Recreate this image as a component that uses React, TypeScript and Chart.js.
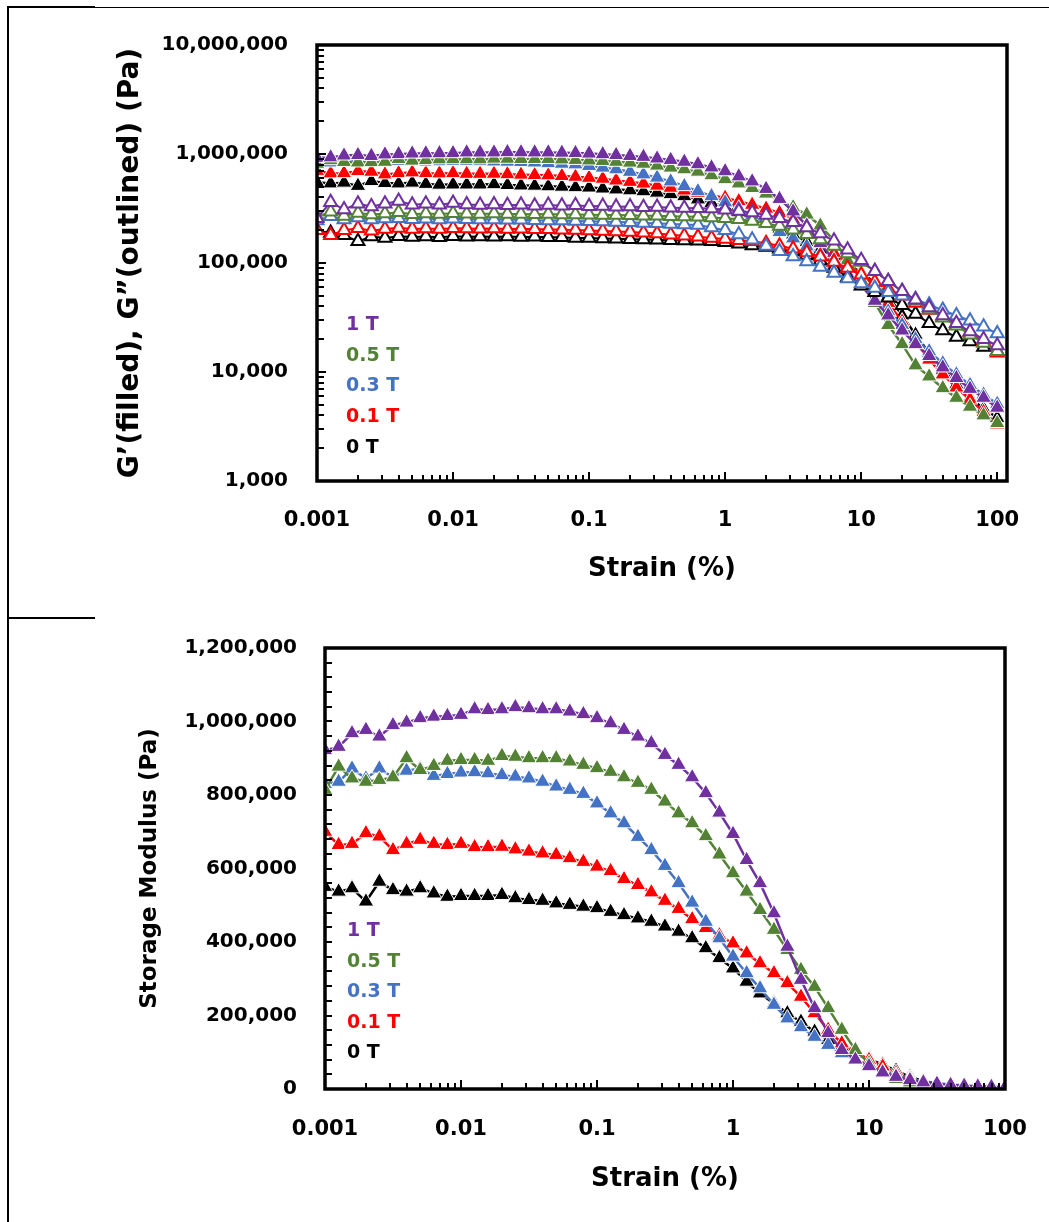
import React, { useEffect, useRef } from 'react';
import { Chart, registerables } from 'chart.js';

Chart.register(...registerables);

// ---------- data ----------
const strain = [
  0.001, 0.00126, 0.00158, 0.002, 0.00251, 0.00316, 0.00398, 0.00501, 0.00631, 0.00794,
  0.01, 0.0126, 0.0158, 0.02, 0.0251, 0.0316, 0.0398, 0.0501, 0.0631, 0.0794,
  0.1, 0.126, 0.158, 0.2, 0.251, 0.316, 0.398, 0.501, 0.631, 0.794,
  1, 1.26, 1.58, 2, 2.51, 3.16, 3.98, 5.01, 6.31, 7.94,
  10, 12.6, 15.8, 20, 25.1, 31.6, 39.8, 50.1, 63.1, 79.4,
  100,
];

// Storage modulus G' (filled markers) in Pa
const gPrime1T = [
  922000, 931000, 968000, 977000, 959000, 990000, 997000, 1009000, 1013000, 1015000,
  1018000, 1033000, 1031000, 1033000, 1039000, 1036000, 1033000, 1033000, 1027000, 1020000,
  1009000, 995000, 977000, 959000, 941000, 909000, 882000, 848000, 805000, 752000,
  694000, 623000, 560000, 478000, 387000, 297000, 220000, 152000, 106000, 80000,
  62000, 45000, 33000, 24000, 18000, 14000, 11000, 8800, 7000, 5800,
  4700,
];
const gPrime05T = [
  814000, 877000, 845000, 836000, 841000, 848000, 900000, 868000, 879000, 893000,
  895000, 895000, 893000, 906000, 904000, 900000, 900000, 900000, 891000, 882000,
  873000, 863000, 848000, 833000, 814000, 782000, 750000, 723000, 688000, 638000,
  587000, 537000, 487000, 433000, 378000, 324000, 278000, 220000, 161000, 106000,
  70000, 43000, 27000, 18000, 11500, 9100, 7100, 5800, 4800, 4000,
  3400,
];
const gPrime03T = [
  830000, 836000, 872000, 845000, 872000, 848000, 866000, 872000, 852000, 857000,
  861000, 862000, 859000, 854000, 850000, 845000, 836000, 823000, 814000, 803000,
  777000, 750000, 723000, 686000, 650000, 607000, 560000, 507000, 455000, 410000,
  360000, 315000, 274000, 229000, 192000, 168000, 142000, 120000, 97000, 79000,
  61000, 47000, 36000, 27000, 20000, 15500, 12000, 9500, 7600, 6200,
  5100,
];
const gPrime01T = [
  700000, 664000, 667000, 696000, 687000, 650000, 667000, 678000, 667000, 664000,
  667000, 658000, 658000, 659000, 652000, 646000, 641000, 637000, 628000, 618000,
  605000, 593000, 571000, 555000, 535000, 512000, 490000, 462000, 438000, 418000,
  396000, 369000, 342000, 315000, 288000, 251000, 206000, 161000, 124000, 101000,
  79000, 61000, 43000, 29000, 19000, 13000, 9500, 7200, 5600, 4300,
  3300,
];
const gPrime0T = [
  550000, 537000, 546000, 510000, 564000, 541000, 537000, 546000, 532000, 523000,
  525000, 525000, 525000, 528000, 519000, 514000, 512000, 505000, 501000, 496000,
  492000, 482000, 473000, 464000, 455000, 442000, 428000, 410000, 383000, 356000,
  328000, 292000, 260000, 233000, 206000, 183000, 156000, 133000, 115000, 97000,
  82000, 66000, 50000, 33000, 22000, 15000, 10500, 7700, 5800, 4600,
  3800,
];

// Loss modulus G'' (outlined markers) in Pa
const gDouble1T = [
  258000, 360000, 310000, 350000, 330000, 350000, 370000, 342000, 350000, 342000,
  355000, 345000, 340000, 345000, 338000, 342000, 336000, 340000, 335000, 338000,
  332000, 333000, 328000, 330000, 325000, 326000, 322000, 320000, 318000, 316000,
  308000, 300000, 290000, 276000, 258000, 236000, 212000, 186000, 160000, 132000,
  106000, 84000, 68000, 55000, 46000, 39000, 33000, 28000, 23500, 20000,
  17500,
];
const gDouble05T = [
  265000, 295000, 270000, 288000, 278000, 284000, 292000, 280000, 285000, 282000,
  286000, 283000, 282000, 284000, 281000, 282000, 280000, 281000, 279000, 279000,
  277000, 276000, 275000, 274000, 272000, 271000, 269000, 267000, 265000, 262000,
  258000, 252000, 243000, 232000, 218000, 202000, 184000, 164000, 143000, 122000,
  102000, 84000, 68000, 55000, 45000, 37500, 31500, 26500, 22000, 18500,
  15500,
];
const gDouble03T = [
  245000, 268000, 250000, 262000, 250000, 256000, 258000, 252000, 255000, 251000,
  254000, 252000, 250000, 251000, 249000, 249000, 247000, 246000, 245000, 243000,
  242000, 240000, 238000, 236000, 233000, 231000, 228000, 226000, 223000, 212000,
  200000, 183000, 163000, 143000, 128000, 115000, 103000, 92000, 81000, 72000,
  65000, 59000, 54000, 50000, 46500, 41500, 37000, 33000, 29500, 26000,
  22500,
];
const gDouble01T = [
  200000, 180000, 200000, 208000, 198000, 205000, 210000, 205000, 207000, 205000,
  208000, 207000, 206000, 207000, 205000, 206000, 204000, 204000, 202000, 201000,
  199000, 197000, 195000, 192000, 189000, 186000, 182000, 178000, 174000, 170000,
  166000, 162000, 158000, 152000, 144000, 135000, 125000, 114000, 102000, 90000,
  78000, 67000, 58000, 50000, 43000, 37000, 32000, 27000, 23000, 19000,
  15000,
];
const gDouble0T = [
  200000, 188000, 180000, 158000, 175000, 170000, 176000, 173000, 175000, 172000,
  176000, 174000, 175000, 174000, 175000, 173000, 174000, 172000, 172000, 170000,
  170000, 168000, 167000, 165000, 164000, 163000, 162000, 161000, 160000, 158000,
  155000, 150000, 145000, 140000, 135000, 128000, 118000, 105000, 90000, 74000,
  62000, 54000, 48000, 41000, 34000, 28000, 24000, 21000, 19000, 17000,
  15500,
];

const seriesLabels = ['1 T', '0.5 T', '0.3 T', '0.1 T', '0 T'];
const seriesColors = ['#7030A0', '#548235', '#4472C4', '#FF0000', '#000000'];
const storageSeries = [gPrime1T, gPrime05T, gPrime03T, gPrime01T, gPrime0T];
const lossSeries = [gDouble1T, gDouble05T, gDouble03T, gDouble01T, gDouble0T];

const topYTitle = 'G\u2019(filled), G\u201D(outlined) (Pa)';
const bottomYTitle = 'Storage Modulus (Pa)';
const xTitle = 'Strain (%)';

// ---------- helpers ----------
const FONT = "'DejaVu Sans', 'Open Sans', sans-serif";

function isPow10(v: number) {
  const l = Math.log10(v);
  return Math.abs(l - Math.round(l)) < 1e-6;
}
function fmtLogStrain(v: number) {
  if (!isPow10(v)) return '';
  const e = Math.round(Math.log10(v));
  return e < 0 ? v.toFixed(-e) : String(Math.round(v));
}
function fmtThousands(v: number) {
  return Math.round(v).toLocaleString('en-US');
}
function logDecorations(min: number, max: number) {
  const major: number[] = [];
  const minor: number[] = [];
  const e0 = Math.floor(Math.log10(min));
  const e1 = Math.ceil(Math.log10(max));
  for (let e = e0; e <= e1; e++) {
    for (let m = 1; m <= 9; m++) {
      const v = m * Math.pow(10, e);
      if (v < min * 0.9999 || v > max * 1.0001) continue;
      if (m === 1) major.push(v);
      else minor.push(v);
    }
  }
  return { major, minor };
}

const framePlugin = {
  id: 'frame',
  afterDraw(chart: any, _args: any, opts: any) {
    const { ctx, chartArea: a, scales } = chart;
    ctx.save();
    ctx.strokeStyle = '#000';
    ctx.lineWidth = 2;
    ctx.beginPath();
    const xs = scales.x;
    const ys = scales.y;
    const drawX = (vals: number[], len: number) => {
      vals.forEach((v) => {
        const px = Math.round(xs.getPixelForValue(v));
        if (px <= a.left + 2 || px >= a.right - 2) return;
        ctx.moveTo(px, a.bottom);
        ctx.lineTo(px, a.bottom - len);
      });
    };
    const drawY = (vals: number[], len: number) => {
      vals.forEach((v) => {
        const py = Math.round(ys.getPixelForValue(v));
        if (py <= a.top + 2 || py >= a.bottom - 2) return;
        ctx.moveTo(a.left, py);
        ctx.lineTo(a.left + len, py);
      });
    };
    drawX(opts.xMajor || [], 9);
    drawX(opts.xMinor || [], 6);
    drawY(opts.yMajor || [], 9);
    drawY(opts.yMinor || [], 7);
    ctx.stroke();
    ctx.lineWidth = 3.5;
    ctx.strokeRect(a.left, a.top, a.right - a.left, a.bottom - a.top);
    ctx.restore();
  },
};

function makeDataset(values: number[], color: string, filled: boolean, label: string) {
  return {
    label,
    data: strain.map((s, i) => ({ x: s, y: values[i] })),
    borderColor: color,
    borderWidth: filled ? 2.5 : 2,
    pointStyle: 'triangle',
    pointRadius: filled ? 9 : 7.5,
    pointBackgroundColor: filled ? color : '#ffffff',
    pointBorderColor: filled ? '#ffffff' : color,
    pointBorderWidth: filled ? 1 : 2,
    tension: 0,
    fill: false,
  };
}

const tickFont = { family: FONT, size: 20, weight: 'bold' as const };
const xTickFont = { family: FONT, size: 21, weight: 'bold' as const };

const fixXPadding = (s: any, h: number) => {
  s.height = h;
  s.paddingLeft = 0;
  s.paddingRight = 0;
};
const fixYPadding = (s: any, w: number) => {
  s.width = w;
  s.paddingTop = 0;
  s.paddingBottom = 0;
};

function TopChart() {
  const ref = useRef<HTMLCanvasElement | null>(null);
  useEffect(() => {
    if (!ref.current) return;
    const xMin = 0.001;
    const xMax = 118;
    const xDec = logDecorations(xMin, xMax);
    const yDec = logDecorations(1000, 10000000);
    const datasets: any[] = [];
    lossSeries.forEach((s, i) => datasets.push(makeDataset(s, seriesColors[i], false, seriesLabels[i] + ' G\u201D')));
    storageSeries.forEach((s, i) => datasets.push(makeDataset(s, seriesColors[i], true, seriesLabels[i] + ' G\u2019')));
    const chart = new Chart(ref.current, {
      type: 'line',
      data: { datasets },
      plugins: [framePlugin],
      options: {
        animation: false,
        responsive: false,
        events: [],
        layout: { padding: { left: 0, top: 45, right: 42, bottom: 0 } },
        plugins: {
          legend: { display: false },
          tooltip: { enabled: false },
          frame: { xMajor: xDec.major, xMinor: xDec.minor, yMajor: yDec.major, yMinor: yDec.minor },
        } as any,
        scales: {
          x: {
            type: 'logarithmic',
            min: xMin,
            max: xMax,
            grid: { display: false, drawTicks: false },
            border: { display: false },
            ticks: {
              autoSkip: false,
              maxRotation: 0,
              padding: 27,
              font: xTickFont,
              color: '#000',
              callback: (v: any) => fmtLogStrain(Number(v)),
            },
            title: {
              display: true,
              text: xTitle,
              color: '#000',
              font: { family: FONT, size: 26, weight: 'bold' },
              padding: { top: 0, bottom: 25 },
            },
            afterFit: (s: any) => fixXPadding(s, 129),
          },
          y: {
            type: 'logarithmic',
            min: 1000,
            max: 10000000,
            grid: { display: false, drawTicks: false },
            border: { display: false },
            ticks: {
              autoSkip: false,
              padding: 29,
              font: tickFont,
              color: '#000',
              callback: (v: any) => (isPow10(Number(v)) ? fmtThousands(Number(v)) : ''),
            },
            title: {
              display: true,
              text: topYTitle,
              color: '#000',
              font: { family: FONT, size: 28, weight: 'bold' },
              padding: { top: 114, bottom: 0 },
            },
            afterFit: (s: any) => fixYPadding(s, 317),
          },
        } as any,
      },
    } as any);
    return () => chart.destroy();
  }, []);
  return <canvas ref={ref} width={1049} height={610} style={{ display: 'block', width: 1049, height: 610 }} />;
}

function BottomChart() {
  const ref = useRef<HTMLCanvasElement | null>(null);
  useEffect(() => {
    if (!ref.current) return;
    const xMin = 0.001;
    const xMax = 100;
    const xDec = logDecorations(xMin, xMax);
    const yMinor: number[] = [];
    for (let v = 40000; v < 1200000; v += 40000) yMinor.push(v);
    const datasets = storageSeries.map((s, i) => makeDataset(s, seriesColors[i], true, seriesLabels[i]));
    const chart = new Chart(ref.current, {
      type: 'line',
      data: { datasets },
      plugins: [framePlugin],
      options: {
        animation: false,
        responsive: false,
        events: [],
        layout: { padding: { left: 0, top: 38, right: 44, bottom: 0 } },
        plugins: {
          legend: { display: false },
          tooltip: { enabled: false },
          frame: { xMajor: xDec.major, xMinor: xDec.minor, yMajor: [], yMinor },
        } as any,
        scales: {
          x: {
            type: 'logarithmic',
            min: xMin,
            max: xMax,
            grid: { display: false, drawTicks: false },
            border: { display: false },
            ticks: {
              autoSkip: false,
              maxRotation: 0,
              padding: 28,
              font: xTickFont,
              color: '#000',
              callback: (v: any) => fmtLogStrain(Number(v)),
            },
            title: {
              display: true,
              text: xTitle,
              color: '#000',
              font: { family: FONT, size: 26, weight: 'bold' },
              padding: { top: 0, bottom: 27 },
            },
            afterFit: (s: any) => fixXPadding(s, 133),
          },
          y: {
            type: 'linear',
            min: 0,
            max: 1200000,
            grid: { display: false, drawTicks: false },
            border: { display: false },
            ticks: {
              stepSize: 200000,
              padding: 28,
              font: tickFont,
              color: '#000',
              callback: (v: any) => fmtThousands(Number(v)),
            },
            title: {
              display: true,
              text: bottomYTitle,
              color: '#000',
              font: { family: FONT, size: 23, weight: 'bold' },
              padding: { top: 136, bottom: 0 },
            },
            afterFit: (s: any) => fixYPadding(s, 325),
          },
        } as any,
      },
    } as any);
    return () => chart.destroy();
  }, []);
  return <canvas ref={ref} width={1049} height={612} style={{ display: 'block', width: 1049, height: 612 }} />;
}

function LegendText({ x, cy, text, color }: { x: number; cy: number; text: string; color: string }) {
  return (
    <div
      style={{
        position: 'absolute',
        left: x,
        top: cy,
        transform: 'translateY(-50%)',
        fontFamily: FONT,
        fontWeight: 'bold',
        fontSize: 19,
        lineHeight: 1,
        color,
        whiteSpace: 'nowrap',
      }}
    >
      {text}
    </div>
  );
}

const topLegendY = [323, 354, 384, 415, 446];
const bottomLegendY = [929, 960, 990, 1021, 1051];

export default function App() {
  return (
    <div
      style={{
        position: 'absolute',
        left: 0,
        top: 0,
        width: 1049,
        height: 1222,
        background: '#ffffff',
        overflow: 'hidden',
      }}
    >
      <div style={{ position: 'absolute', left: 0, top: 0 }}>
        <TopChart />
      </div>
      <div style={{ position: 'absolute', left: 0, top: 610 }}>
        <BottomChart />
      </div>
      {seriesLabels.map((t, i) => (
        <LegendText key={'tl' + i} x={346} cy={topLegendY[i]} text={t} color={seriesColors[i]} />
      ))}
      {seriesLabels.map((t, i) => (
        <LegendText key={'bl' + i} x={347} cy={bottomLegendY[i]} text={t} color={seriesColors[i]} />
      ))}
      {/* table cell borders */}
      <div style={{ position: 'absolute', left: 7, top: 6, width: 2, height: 1216, background: '#000' }} />
      <div style={{ position: 'absolute', left: 7, top: 6, width: 88, height: 2, background: '#000' }} />
      <div style={{ position: 'absolute', left: 95, top: 7, width: 954, height: 1, background: '#000' }} />
      <div style={{ position: 'absolute', left: 7, top: 617, width: 88, height: 2, background: '#000' }} />
    </div>
  );
}
